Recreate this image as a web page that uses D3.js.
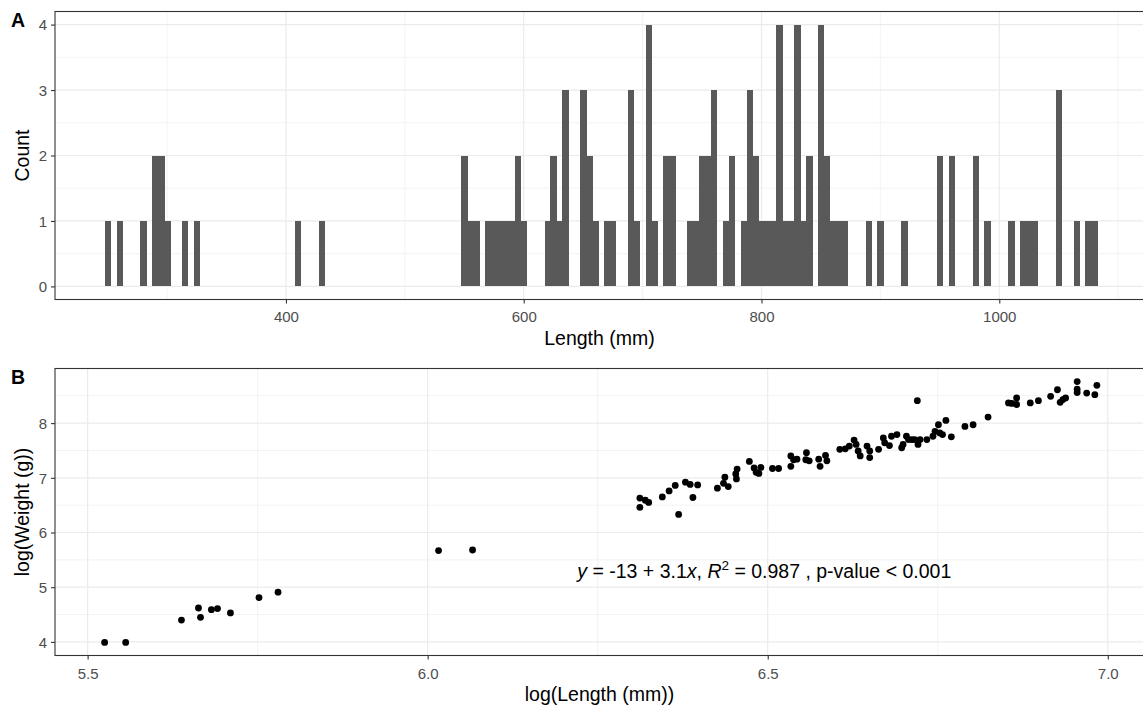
<!DOCTYPE html>
<html>
<head>
<meta charset="utf-8">
<script src="https://cdn.jsdelivr.net/npm/d3@7"></script>
<style>
  body { margin: 0; background: #fff; }
  svg { display: block; font-family: "Liberation Sans", Arial, sans-serif; }
</style>
</head>
<body>
<div id="d3-container"></div>
<script>
/**
 * DATA
 * */
// panel A: histogram bins (binwidth 5 mm, centre of each non-empty bin) and counts
const binWidth = 5;
const binMids = [250, 260, 280, 290, 295, 300, 315, 325, 410, 430,
  550, 555, 560, 570, 575, 580, 585, 590, 595, 600,
  620, 625, 630, 635, 650, 655, 660, 670, 675,
  690, 695, 705, 710, 720, 725, 740, 745, 750, 755, 760, 770, 775,
  785, 790, 795, 800, 805, 810, 815, 820, 825, 830, 835, 840,
  850, 855, 860, 865, 870, 890, 900,
  920, 950, 960, 980, 990, 1010, 1020, 1025, 1030, 1050, 1065, 1075, 1080];
const binCounts = [1, 1, 1, 2, 2, 1, 1, 1, 1, 1,
  2, 1, 1, 1, 1, 1, 1, 1, 2, 1,
  1, 2, 1, 3, 3, 2, 1, 1, 1,
  3, 1, 4, 1, 2, 2, 1, 1, 2, 2, 3, 1, 2,
  1, 3, 2, 1, 1, 1, 4, 1, 1, 4, 1, 2,
  4, 2, 1, 1, 1, 1, 1,
  1, 2, 2, 2, 1, 1, 1, 1, 1, 3, 1, 1, 1];
const countTicks = [0, 1, 2, 3, 4];
const lengthTicks = [400, 600, 800, 1000];

// panel B: log(length) and log(weight)
const logLength = [5.525, 5.556, 5.638, 5.663, 5.666, 5.682, 5.691, 5.710, 5.752, 5.780,
  6.016, 6.066,
  6.312, 6.312, 6.320, 6.325, 6.345, 6.355, 6.364, 6.369, 6.379, 6.386, 6.390, 6.397,
  6.426, 6.435, 6.437, 6.442, 6.454, 6.455, 6.453, 6.473, 6.480, 6.483, 6.487, 6.490,
  6.507, 6.516, 6.534, 6.538, 6.534, 6.543, 6.557, 6.556, 6.561, 6.575, 6.577, 6.585, 6.587,
  6.606, 6.614, 6.620, 6.627, 6.630, 6.633, 6.636, 6.646, 6.650, 6.650, 6.663,
  6.670, 6.672, 6.679, 6.682, 6.690, 6.697, 6.699, 6.704, 6.707, 6.712, 6.716, 6.721, 6.724, 6.734,
  6.720, 6.743, 6.746, 6.751, 6.753, 6.757, 6.762, 6.770, 6.790, 6.802, 6.824,
  6.854, 6.859, 6.866, 6.866, 6.886, 6.898, 6.916, 6.926, 6.930, 6.934, 6.938,
  6.955, 6.955, 6.955, 6.969, 6.981, 6.984];
const logWeight = [3.99, 3.99, 4.40, 4.62, 4.45, 4.59, 4.61, 4.53, 4.81, 4.91,
  5.67, 5.68,
  6.63, 6.46, 6.59, 6.55, 6.65, 6.76, 6.86, 6.33, 6.92, 6.88, 6.64, 6.87,
  6.81, 6.90, 7.01, 6.84, 6.98, 7.16, 7.07, 7.30, 7.18, 7.10, 7.08, 7.19,
  7.17, 7.17, 7.40, 7.33, 7.21, 7.34, 7.46, 7.33, 7.31, 7.34, 7.21, 7.41, 7.31,
  7.52, 7.53, 7.58, 7.69, 7.61, 7.49, 7.40, 7.58, 7.49, 7.37, 7.52,
  7.73, 7.64, 7.59, 7.76, 7.79, 7.55, 7.61, 7.76, 7.70, 7.70, 7.70, 7.61, 7.70, 7.70,
  8.41, 7.76, 7.85, 7.97, 7.82, 7.79, 8.05, 7.75, 7.94, 7.97, 8.11,
  8.37, 8.36, 8.46, 8.34, 8.37, 8.41, 8.49, 8.61, 8.38, 8.43, 8.46,
  8.76, 8.62, 8.56, 8.55, 8.52, 8.69];
const logLengthTicks = [5.5, 6.0, 6.5, 7.0];
const logWeightTicks = [4, 5, 6, 7, 8];

// regression label (position in data units of panel B)
const eqX = 6.22, eqY = 5.17;

/**
 * CONSTANTS
 * */
const width = 1143,
  height = 713,
  gridCol = "#EBEBEB",
  borderCol = "#333333",
  tickTextCol = "#4D4D4D";

const svg = d3.select("#d3-container")
  .append("svg")
  .attr("width", width)
  .attr("height", height);

// expand a range by 5% each side, like ggplot does
function expand(lo, hi) {
  const pad = (hi - lo) * 0.05;
  return [lo - pad, hi + pad];
}

function drawPanel(opts) {
  const { x, y, xTicks, yTicks, xMinor, yMinor, xFmt, xLabel, yLabel, tag, titleY, tickY } = opts;
  const [x0, x1] = x.range();
  const [y0, y1] = y.range();
  const g = svg.append("g");

  // grid
  g.selectAll("line.minor-x").data(xMinor).join("line")
    .attr("x1", d => x(d)).attr("x2", d => x(d)).attr("y1", y1).attr("y2", y0)
    .attr("stroke", gridCol).attr("stroke-width", 0.6);
  g.selectAll("line.minor-y").data(yMinor).join("line")
    .attr("y1", d => y(d)).attr("y2", d => y(d)).attr("x1", x0).attr("x2", x1)
    .attr("stroke", gridCol).attr("stroke-width", 0.6);
  g.selectAll("line.major-x").data(xTicks).join("line")
    .attr("x1", d => x(d)).attr("x2", d => x(d)).attr("y1", y1).attr("y2", y0)
    .attr("stroke", gridCol).attr("stroke-width", 1.2);
  g.selectAll("line.major-y").data(yTicks).join("line")
    .attr("y1", d => y(d)).attr("y2", d => y(d)).attr("x1", x0).attr("x2", x1)
    .attr("stroke", gridCol).attr("stroke-width", 1.2);

  // axes
  const xAxis = svg.append("g")
    .attr("transform", `translate(0,${y0})`)
    .call(d3.axisBottom(x).tickValues(xTicks).tickFormat(xFmt).tickSize(4).tickSizeOuter(0));
  const yAxis = svg.append("g")
    .attr("transform", `translate(${x0},0)`)
    .call(d3.axisLeft(y).tickValues(yTicks).tickFormat(d3.format("d")).tickSize(4).tickSizeOuter(0));
  [xAxis, yAxis].forEach(a => {
    a.select(".domain").remove();
    a.selectAll(".tick line").attr("stroke", borderCol).attr("stroke-width", 1.1);
    a.selectAll(".tick text")
      .attr("fill", tickTextCol)
      .attr("font-size", 15)
      .attr("font-family", "Liberation Sans, Arial, sans-serif");
  });
  xAxis.selectAll(".tick text").attr("y", tickY - y0).attr("dy", 0);
  yAxis.selectAll(".tick text").attr("x", -8).attr("dy", "0.36em");

  opts.g = g;
  opts.labels = () => {
    // border
    svg.append("rect")
      .attr("x", x0).attr("y", y1)
      .attr("width", x1 - x0).attr("height", y0 - y1)
      .attr("fill", "none").attr("stroke", borderCol).attr("stroke-width", 1.1);

    svg.append("text")
      .attr("x", (x0 + 1143) / 2 + 0.5)
      .attr("y", titleY)
      .attr("text-anchor", "middle")
      .attr("font-size", 19.5)
      .text(xLabel);

    svg.append("text")
      .attr("transform", `translate(29,${(y0 + y1) / 2}) rotate(-90)`)
      .attr("text-anchor", "middle")
      .attr("font-size", 19.5)
      .text(yLabel);

    svg.append("text")
      .attr("x", 11)
      .attr("y", y1 + 15)
      .attr("font-size", 19.5)
      .attr("font-weight", "bold")
      .text(tag);
  };
  return opts;
}

/**
 * PANEL A - histogram
 * */
const xA = d3.scaleLinear()
  .domain(expand(d3.min(binMids) - binWidth / 2, d3.max(binMids) + binWidth / 2))
  .range([55, 1147]);
const yA = d3.scaleLinear()
  .domain(expand(0, d3.max(binCounts)))
  .range([299.5, 11.5]);

const pA = drawPanel({
  x: xA, y: yA,
  xTicks: lengthTicks, yTicks: countTicks,
  xMinor: [300, 500, 700, 900, 1100],
  yMinor: [0.5, 1.5, 2.5, 3.5],
  xFmt: d3.format("d"),
  xLabel: "Length (mm)", yLabel: "Count", tag: "A",
  titleY: 345, tickY: 321.5
});

pA.g.selectAll("rect.bar")
  .data(binMids.map((m, i) => ({ mid: m, count: binCounts[i] })))
  .join("rect")
  .attr("class", "bar")
  .attr("x", d => xA(d.mid - binWidth / 2))
  .attr("width", d => xA(d.mid + binWidth / 2) - xA(d.mid - binWidth / 2) + 0.5)
  .attr("y", d => yA(d.count))
  .attr("height", d => yA(0) - yA(d.count))
  .attr("fill", "#595959")
  .attr("shape-rendering", "crispEdges");
pA.labels();

/**
 * PANEL B - scatter
 * */
const xB = d3.scaleLinear()
  .domain(expand(d3.min(logLength), d3.max(logLength)))
  .range([55, 1146.5]);
const yB = d3.scaleLinear()
  .domain(expand(d3.min(logWeight), d3.max(logWeight)))
  .range([655.5, 368.5]);

const pB = drawPanel({
  x: xB, y: yB,
  xTicks: logLengthTicks, yTicks: logWeightTicks,
  xMinor: [5.75, 6.25, 6.75],
  yMinor: [4.5, 5.5, 6.5, 7.5, 8.5],
  xFmt: d3.format(".1f"),
  xLabel: "log(Length (mm))", yLabel: "log(Weight (g))", tag: "B",
  titleY: 701, tickY: 678.5
});

pB.g.selectAll("circle.dot")
  .data(logLength.map((l, i) => ({ l, w: logWeight[i] })))
  .join("circle")
  .attr("class", "dot")
  .attr("cx", d => xB(d.l))
  .attr("cy", d => yB(d.w))
  .attr("r", 3.4)
  .attr("fill", "#000");

// regression equation
const eq = pB.g.append("text")
  .attr("x", xB(eqX))
  .attr("y", yB(eqY))
  .attr("font-size", 19.5)
  .attr("fill", "#000");
eq.append("tspan").attr("font-style", "italic").text("y");
eq.append("tspan").text(" = -13 + 3.1");
eq.append("tspan").attr("font-style", "italic").text("x");
eq.append("tspan").text(", ");
eq.append("tspan").attr("font-style", "italic").text("R");
eq.append("tspan").attr("font-size", 13.5).attr("dy", -8).text("2");
eq.append("tspan").attr("dy", 8).text(" = 0.987 , p-value < 0.001");

pB.labels();
</script>
</body>
</html>
